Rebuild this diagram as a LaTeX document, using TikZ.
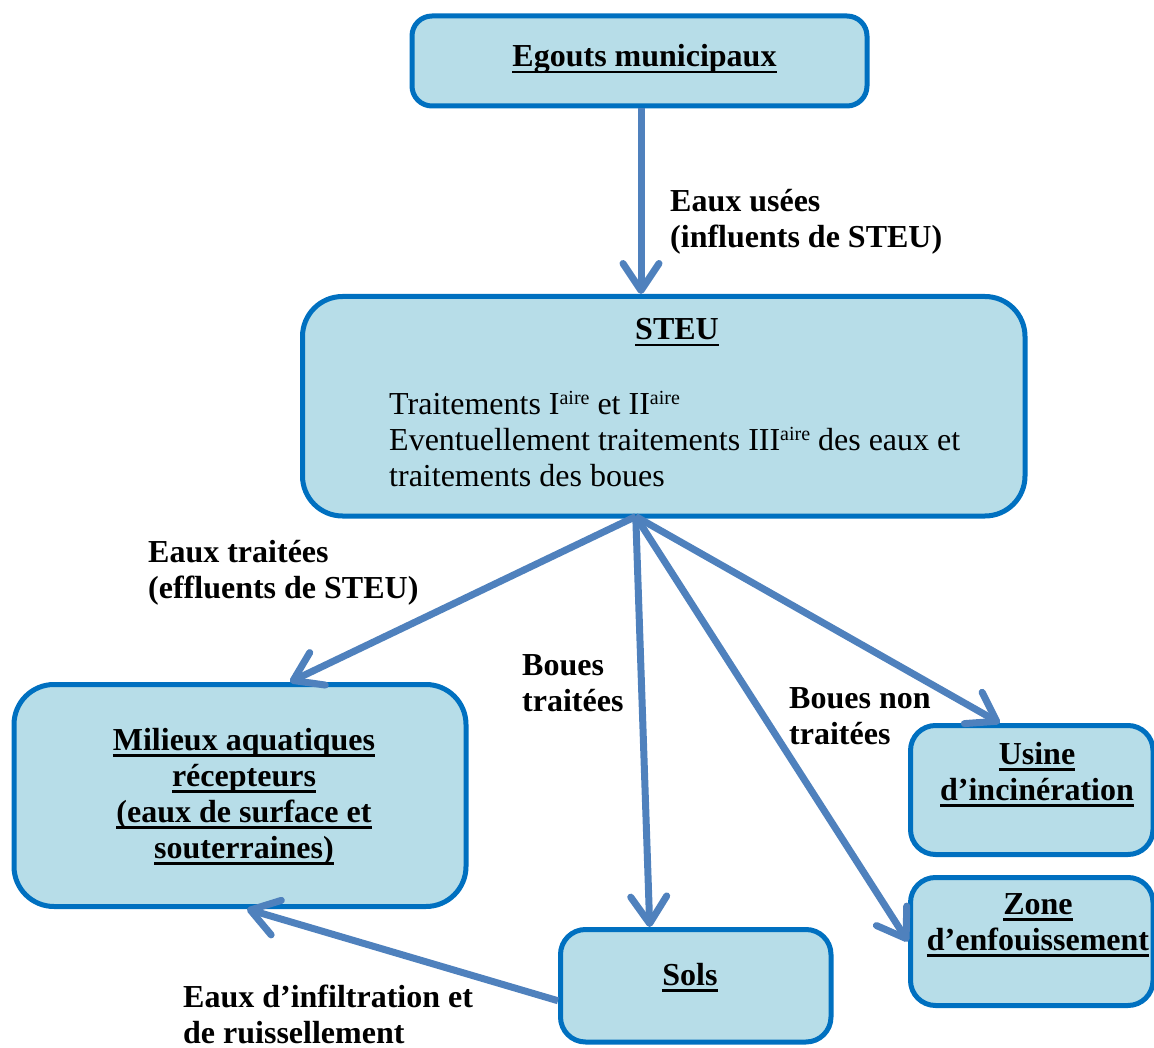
\documentclass[tikz,border=0pt]{standalone}
\usepackage{fontspec}
\setmainfont{Liberation Serif}
\usetikzlibrary{arrows.meta}
\definecolor{boxfill}{HTML}{B7DDE8}
\definecolor{boxline}{HTML}{0070C0}
\definecolor{arrowc}{HTML}{4F81BD}
\newcommand\ulx[1]{\leavevmode\setbox0\hbox{#1}\rlap{\raisebox{-6.5pt}{\rule{\wd0}{2.6pt}}}\box0}
\newcommand\supx[1]{\raisebox{10pt}{\fontsize{20}{20}\selectfont #1}}
\begin{document}
\begin{tikzpicture}[x=1pt,y=-1pt,
  box/.style={draw=boxline, fill=boxfill, line width=5pt, rectangle, inner sep=0pt},
  ttl/.style={font={\fontsize{32}{36}\selectfont\bfseries}, inner sep=0pt, align=center, anchor=base},
  lbl/.style={font={\fontsize{32}{36}\selectfont\bfseries}, inner sep=0pt, align=left, anchor=base west},
  body/.style={font={\fontsize{32}{36}\selectfont}, inner sep=0pt, align=left, anchor=base west},
  arr/.style={draw=arrowc, line width=7pt, -{Straight Barb[length=27pt,width=36pt,round]}}]
\useasboundingbox (0,0) rectangle (1154,1048);
\clip (0,0) rectangle (1154,1048);
% boxes
\node[box, rounded corners=20pt, minimum width=455pt, minimum height=90pt] (egout) at (639.5,61) {};
\node[box, rounded corners=40pt, minimum width=722.5pt, minimum height=219.5pt] (steu) at (663.75,406.25) {};
\node[box, rounded corners=40pt, minimum width=452pt, minimum height=222pt] (mil) at (240,795.5) {};
\node[box, rounded corners=25pt, minimum width=242.5pt, minimum height=129pt] (usine) at (1031.75,790) {};
\node[box, rounded corners=25pt, minimum width=242.5pt, minimum height=128pt] (zone) at (1031.75,941.5) {};
\node[box, rounded corners=25pt, minimum width=270.5pt, minimum height=112.5pt] (sols) at (695.75,985.75) {};
% arrows
\coordinate (src) at ([xshift=-28pt,yshift=2pt]steu.south);
\draw[arr] ([xshift=1.5pt]egout.south) -- ([xshift=1.5pt]egout.south |- steu.north);
\draw[arr] (src) -- ([xshift=50pt]mil.north);
\draw[arr] (src) -- ([xshift=-46pt]sols.north);
\draw[arr] (src) -- (zone.west);
\draw[arr] (src) -- ([xshift=-32pt]usine.north);
\draw[arr] ([yshift=-15pt]sols.west) -- ([xshift=7pt]mil.south);
% texts
\node[ttl] (tegout) at (644.5,67) {\ulx{Egouts municipaux}};
\node[ttl] (tsteu) at (677,340) {\ulx{STEU}};
\node[body] (tbody) at (389,486) {Traitements I\supx{aire} et II\supx{aire}\\Eventuellement traitements III\supx{aire} des eaux et\\traitements des boues};
\node[ttl] (tmil) at (244,858) {\ulx{Milieux aquatiques}\\\ulx{récepteurs}\\\ulx{(eaux de surface et}\\\ulx{souterraines)}};
\node[ttl] (tusine) at (1037,800) {\ulx{Usine}\\\ulx{d’incinération}};
\node[ttl] (tzone) at (1038,950) {\ulx{Zone}\\\ulx{d’enfouissement}};
\node[ttl] (tsols) at (690,985) {\ulx{Sols}};
\node[lbl] (l1) at (670,248) {Eaux usées\\(influents de STEU)};
\node[lbl] (l2) at (148,598) {Eaux traitées\\(effluents de STEU)};
\node[lbl] (l3) at (522,711) {Boues\\traitées};
\node[lbl] (l4) at (789,744) {Boues non\\traitées};
\node[lbl] (l5) at (183,1043) {Eaux d’infiltration et\\de ruissellement};
\end{tikzpicture}
\end{document}
